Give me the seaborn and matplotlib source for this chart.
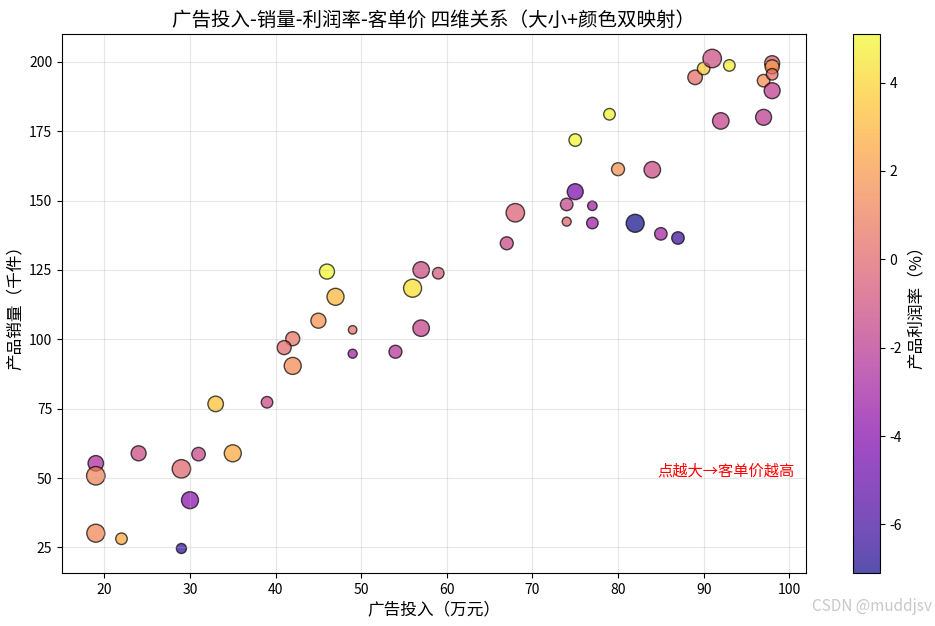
import numpy as np
import pandas as pd
import matplotlib
matplotlib.use("Agg")
import matplotlib.pyplot as plt
import seaborn as sns

# Data
ad_spend = [46, 47, 45, 49, 42, 41, 49, 42, 33, 39,
            19, 19, 24, 29, 31, 35, 30, 19, 22, 29,
            54, 57, 59, 56, 57, 68, 67, 74, 75, 77,
            74, 77, 82, 85, 87, 75, 79, 80, 84, 89,
            90, 91, 93, 92, 97, 97, 98, 98, 98, 98]
sales = [124.4, 115.3, 106.7, 103.4, 100.2, 97.0, 94.8, 90.4, 76.7, 77.3,
         55.3, 50.8, 58.9, 53.3, 58.6, 58.9, 42.0, 30.1, 28.1, 24.6,
         95.5, 125.0, 123.8, 118.4, 104.0, 145.6, 134.6, 148.6, 153.2, 148.1,
         142.4, 141.9, 141.8, 138.0, 136.5, 171.8, 181.1, 161.3, 161.1, 194.4,
         197.6, 201.2, 198.7, 178.7, 180.0, 193.2, 189.6, 199.5, 198.2, 195.5]
profit = [5.1, 3.0, 1.8, 0.5, 0.6, 0.2, -3.0, 1.5, 3.4, -1.3,
          -2.6, 1.2, -1.2, 0.0, -1.4, 2.6, -3.9, 1.3, 2.6, -6.5,
          -2.2, -1.2, -0.6, 4.3, -1.6, -0.3, -1.3, -1.5, -4.3, -3.1,
          0.0, -3.2, -7.1, -2.9, -6.2, 5.0, 4.9, 1.7, -1.2, 0.3,
          3.7, -1.1, 4.8, -1.6, -1.9, 1.6, -1.8, -0.5, 2.3, 0.3]
price = [78, 100, 78, 25, 68, 68, 28, 100, 83, 46,
         83, 118, 78, 118, 63, 100, 100, 112, 46, 35,
         58, 94, 46, 112, 94, 118, 58, 54, 88, 31,
         28, 46, 112, 54, 54, 54, 46, 58, 94, 73,
         54, 118, 46, 94, 88, 54, 88, 78, 68, 46]

df = pd.DataFrame({"ad": ad_spend, "sales": sales, "profit": profit, "price": price})

plt.rcParams["font.family"] = ["Noto Sans CJK SC", "DejaVu Sans"]
plt.rcParams["axes.unicode_minus"] = False

fig = plt.figure(figsize=(9.35, 6.26), dpi=100)
ax = fig.add_axes([0.0663, 0.0847, 0.7957, 0.861])
cax = fig.add_axes([0.912, 0.0847, 0.0289, 0.861])

vmin, vmax = min(profit), max(profit)
sns.scatterplot(data=df, x="ad", y="sales", hue="profit", size="price",
                palette="plasma", hue_norm=(vmin, vmax),
                sizes=(min(price) * 1.5, max(price) * 1.5),
                alpha=0.7, edgecolor="black", linewidth=1,
                legend=False, ax=ax)

sm = plt.cm.ScalarMappable(cmap="plasma", norm=plt.Normalize(vmin, vmax))
cbar = fig.colorbar(sm, cax=cax, alpha=0.7)
cbar.set_label("产品利润率（%）", fontsize=12)

ax.set_title("广告投入-销量-利润率-客单价 四维关系（大小+颜色双映射）",
             fontsize=14, fontweight="medium")
ax.set_xlabel("广告投入（万元）", fontsize=12)
ax.set_ylabel("产品销量（千件）", fontsize=12)
ax.grid(True, alpha=0.3)

ax.text(0.985, 0.19, "点越大→客单价越高", transform=ax.transAxes,
        ha="right", va="center", color="red", fontsize=11)

fig.text(0.997, 0.018, "CSDN @muddjsv", ha="right", va="bottom",
         color="#c8c8c8", fontsize=11)

plt.savefig("out.png", dpi=100)
